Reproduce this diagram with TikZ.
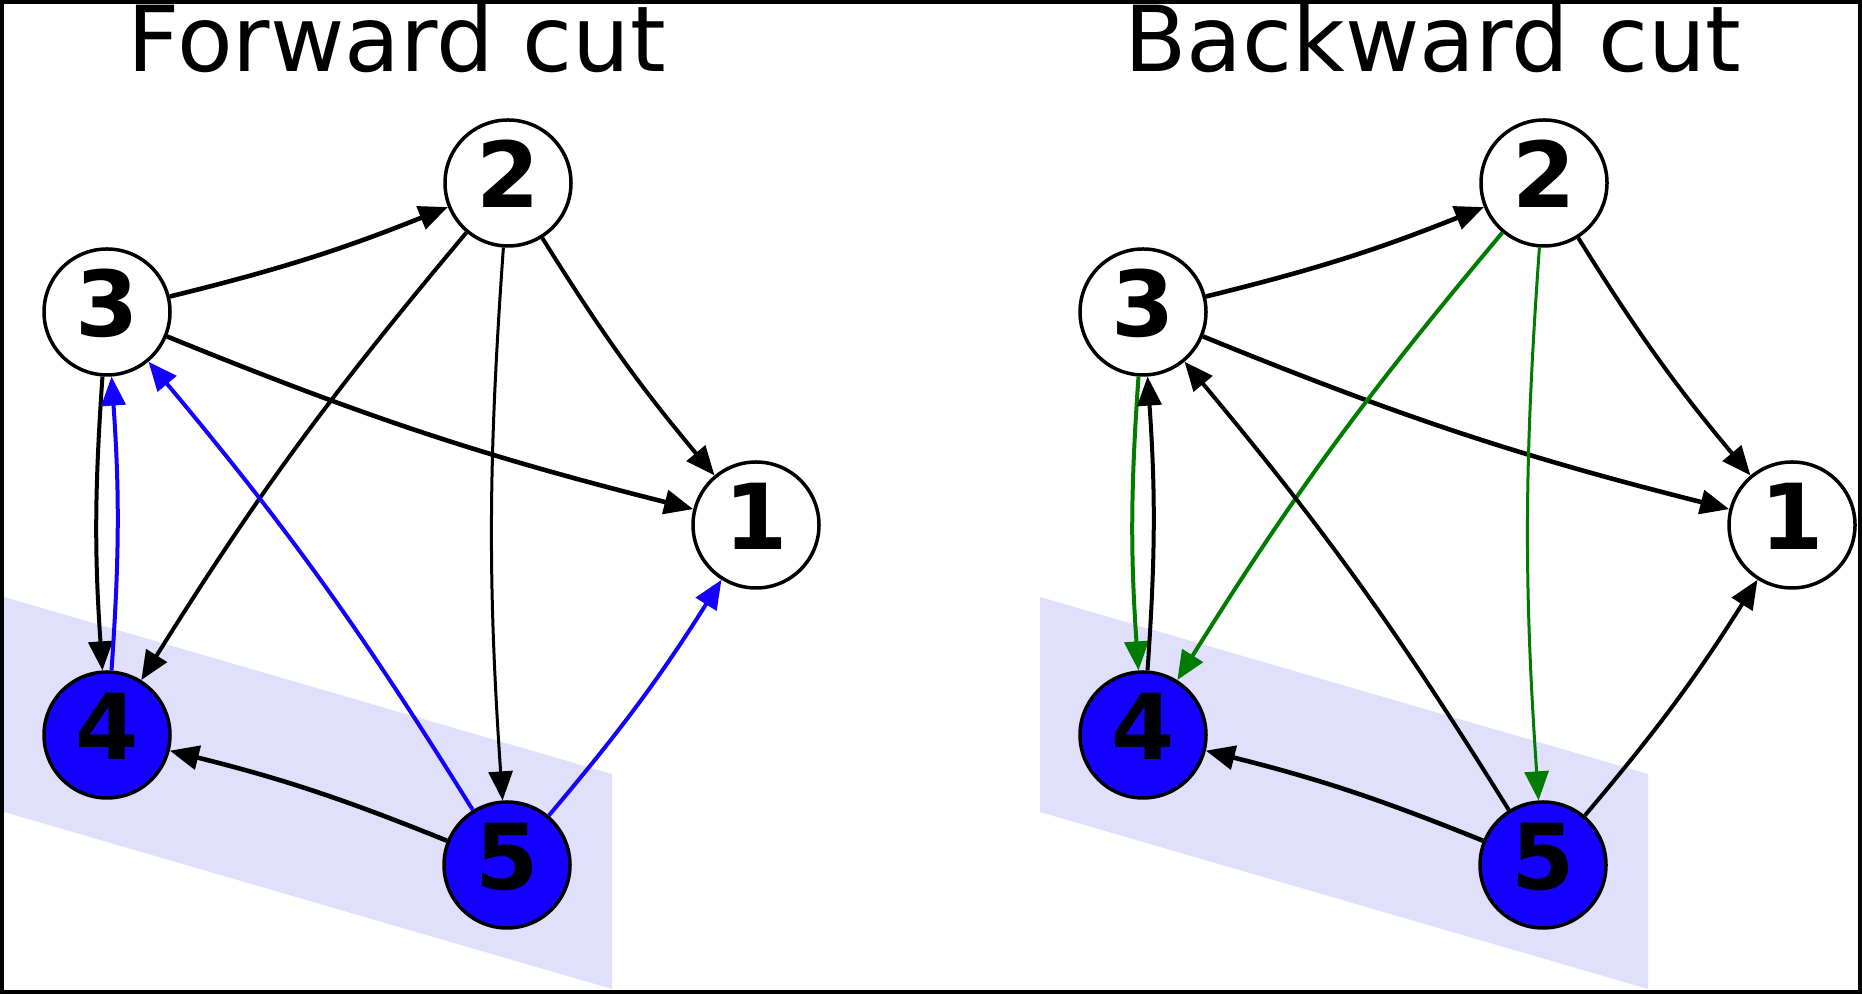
\documentclass[tikz,border=0pt]{standalone}
\usepackage{fontspec}
\setmainfont{DejaVu Sans}
\usetikzlibrary{arrows.meta}
\definecolor{cutblue}{RGB}{20,0,255}
\definecolor{cutgreen}{RGB}{0,125,0}
\definecolor{bandfill}{RGB}{224,224,252}
\begin{document}
\begin{tikzpicture}[x=0.5pt, y=0.5pt, >={Triangle[length=14.5pt,width=12pt]}]
      \tikzset{vertex/.style={circle, draw, line width=1.75pt, minimum size=63pt, inner sep=0pt, fill=white, text depth=9pt, font=\fontsize{45.5}{50}\selectfont\bfseries},
               cutvertex/.style={vertex, fill=cutblue},
               conn/.style={->, line width=2pt, bend right=4},
               heading/.style={anchor=base, font=\fontsize{45.5}{50}\selectfont}}
      \useasboundingbox (0,0) rectangle (1862,994);
      \fill[bandfill] (4,397) -- (612,220) -- (612,5) -- (4,182) -- cycle;
      \fill[bandfill] (1040,397) -- (1648,220) -- (1648,5) -- (1040,182) -- cycle;
      \node[heading] (ft) at (397,922) {Forward cut};
      \node[heading] (bt) at (1433,922) {Backward cut};
      \node[vertex] (f1) at (756,469) {1};
      \node[vertex] (f2) at (508,811) {2};
      \node[vertex] (f3) at (107,682) {3};
      \node[cutvertex] (f4) at (107,259) {4};
      \node[cutvertex] (f5) at (507,129) {5};
      \draw[conn, line width=2.3pt] (f3) to (f2);
      \draw[conn, line width=2.3pt] (f3) to (f1);
      \draw[conn] (f2) to (f1);
      \draw[conn] (f2) to (f4);
      \draw[conn, line width=1.5pt] (f2) to (f5);
      \draw[conn] (f3) to (f4);
      \draw[conn, cutblue] (f4) to (f3);
      \draw[conn, cutblue] (f5) to (f3);
      \draw[conn, cutblue] (f5) to (f1);
      \draw[conn, line width=2.3pt] (f5) to (f4);
      \node[vertex] (b1) at (1792,469) {1};
      \node[vertex] (b2) at (1544,811) {2};
      \node[vertex] (b3) at (1143,682) {3};
      \node[cutvertex] (b4) at (1143,259) {4};
      \node[cutvertex] (b5) at (1543,129) {5};
      \draw[conn, line width=2.3pt] (b3) to (b2);
      \draw[conn, line width=2.3pt] (b3) to (b1);
      \draw[conn] (b2) to (b1);
      \draw[conn, cutgreen] (b2) to (b4);
      \draw[conn, cutgreen, line width=1.5pt] (b2) to (b5);
      \draw[conn, cutgreen] (b3) to (b4);
      \draw[conn] (b4) to (b3);
      \draw[conn] (b5) to (b3);
      \draw[conn] (b5) to (b1);
      \draw[conn, line width=2.3pt] (b5) to (b4);
      \draw[line width=2pt] (2,2) rectangle (1860,992);
\end{tikzpicture}
\end{document}
